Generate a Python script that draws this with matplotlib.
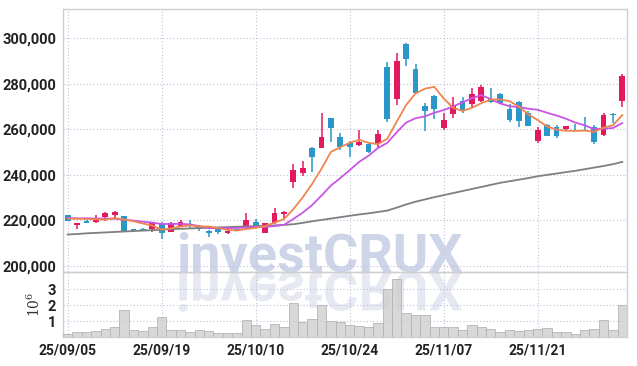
import matplotlib
matplotlib.use("Agg")
import matplotlib.pyplot as plt
import numpy as np
from matplotlib.textpath import TextPath
from matplotlib.patches import PathPatch
from matplotlib.font_manager import FontProperties
from matplotlib.transforms import Affine2D

# ---------------- data ----------------
dates = ["25/09/05", "25/09/08", "25/09/09", "25/09/10", "25/09/11", "25/09/12",
         "25/09/15", "25/09/16", "25/09/17", "25/09/18", "25/09/19",
         "25/09/22", "25/09/23", "25/09/24", "25/09/25", "25/09/26",
         "25/09/29", "25/09/30", "25/10/01", "25/10/02", "25/10/10",
         "25/10/13", "25/10/14", "25/10/15", "25/10/16", "25/10/17",
         "25/10/20", "25/10/21", "25/10/22", "25/10/23", "25/10/24",
         "25/10/27", "25/10/28", "25/10/29", "25/10/30", "25/10/31",
         "25/11/03", "25/11/04", "25/11/05", "25/11/06", "25/11/07",
         "25/11/10", "25/11/11", "25/11/12", "25/11/13", "25/11/14",
         "25/11/17", "25/11/18", "25/11/19", "25/11/20", "25/11/21",
         "25/11/24", "25/11/25", "25/11/26", "25/11/27", "25/11/28",
         "25/12/01", "25/12/02", "25/12/03", "25/12/04"]

opens = [222300, 218000, 219800, 219200, 221400, 222300, 221900, 216100, 216200, 216000,
         218400, 215000, 217600, 218600, 217000, 215400, 216000, 214300, 216100, 216600,
         219300, 214600, 218700, 222900, 237000, 240900, 251900, 251900, 264800, 256800,
         253800, 253100, 253500, 253800, 287500, 273300, 297500, 286500, 270200, 274600,
         260700, 266600, 272400, 271100, 272600, 273200, 275400, 268900, 271900, 267300,
         255000, 261900, 261100, 260100, 261200, 261200, 261100, 257500, 266800, 272600]
highs = [222500, 218800, 220100, 222300, 223600, 224000, 222000, 216300, 216500, 219400,
         219400, 219300, 220100, 220200, 217800, 215600, 216500, 215600, 216300, 223100,
         220800, 219000, 225300, 223900, 245000, 246000, 252300, 267000, 265100, 258500,
         255000, 259700, 254100, 259700, 289700, 293800, 298100, 288600, 271400, 275000,
         267000, 274100, 274100, 278400, 279300, 278000, 276000, 271100, 272300, 268000,
         261100, 262300, 261900, 261600, 262300, 265300, 262000, 267300, 267300, 284300]
lows = [219700, 216000, 218800, 218900, 219800, 220600, 215200, 215200, 215300, 215000,
        211900, 214800, 217300, 216000, 215400, 212900, 213800, 214200, 215700, 216300,
        216600, 214300, 218500, 220500, 234100, 239300, 241400, 251600, 254300, 251100,
        248000, 252800, 249500, 251600, 263100, 270700, 287800, 275500, 259300, 264500,
        259700, 264800, 267300, 269200, 272200, 271800, 271000, 263300, 261100, 261300,
        254100, 257000, 256300, 259900, 259700, 259300, 253700, 256900, 262900, 270000]
closes = [219800, 218700, 219000, 220800, 223100, 223600, 215300, 215300, 215500, 218900,
          214300, 218700, 219300, 217900, 216300, 214600, 215100, 215400, 215900, 220100,
          217100, 218800, 223100, 223600, 242100, 243100, 248000, 256700, 260800, 252400,
          252400, 254600, 250200, 257800, 264500, 290000, 290900, 275800, 268200, 268800,
          264100, 270700, 268500, 275400, 278700, 272200, 271400, 264100, 263800, 261600,
          259700, 257200, 257200, 261400, 260900, 260900, 254300, 266300, 266500, 283400]
volumes_m = [0.19, 0.31, 0.31, 0.37, 0.52, 0.62, 1.69, 0.46, 0.40, 0.62,
             1.25, 0.46, 0.46, 0.33, 0.46, 0.40, 0.27, 0.27, 0.27, 1.06,
             0.75, 0.52, 0.81, 0.65, 2.12, 0.96, 1.15, 2.02, 1.02, 0.92,
             0.75, 0.69, 0.65, 0.90, 3.00, 3.67, 1.50, 1.38, 1.38, 0.65,
             0.65, 0.65, 0.44, 0.75, 0.65, 0.50, 0.33, 0.46, 0.40, 0.46,
             0.52, 0.58, 0.33, 0.33, 0.19, 0.46, 0.52, 1.08, 0.46, 2.02]
ma5_k = [220.8, 220.7, 220.6, 220.5, 220.3, 221.0, 220.4, 219.6, 218.6, 217.7,
         215.9, 216.5, 217.3, 217.8, 217.3, 217.3, 216.6, 215.9, 215.5, 216.2,
         216.7, 217.5, 219.0, 220.5, 224.9, 230.1, 236.0, 242.7, 250.1, 252.2,
         254.1, 255.4, 254.1, 253.5, 255.9, 263.4, 270.7, 275.8, 277.9, 278.7,
         273.6, 269.5, 268.1, 269.5, 271.5, 273.1, 273.2, 272.4, 270.0, 266.6,
         264.1, 261.3, 259.9, 259.4, 259.3, 259.5, 258.9, 260.8, 261.8, 266.3]
ma10_k = [221.0, 220.9, 220.9, 220.8, 220.8, 220.7, 220.3, 219.9, 219.4, 219.0,
          218.4, 218.4, 218.5, 218.2, 217.5, 216.6, 216.6, 216.6, 216.7, 216.8,
          217.1, 217.1, 217.5, 218.0, 220.6, 223.4, 226.7, 230.9, 235.3, 238.6,
          242.1, 245.7, 248.4, 251.8, 254.1, 258.7, 263.0, 264.9, 265.7, 267.3,
          268.5, 270.1, 271.9, 273.7, 275.1, 273.3, 271.4, 270.2, 269.8, 269.1,
          268.6, 267.3, 266.1, 264.7, 263.0, 261.8, 260.1, 260.3, 260.6, 262.8]
ma60_k = [213.8, 214.0, 214.3, 214.5, 214.7, 214.9, 215.1, 215.3, 215.5, 215.7,
          215.9, 216.1, 216.3, 216.45, 216.6, 216.75, 216.9, 217.05, 217.2, 217.35,
          217.45, 217.6, 217.8, 218.0, 218.3, 218.9, 219.6, 220.2, 220.8, 221.4,
          222.0, 222.6, 223.1, 223.7, 224.3, 225.6, 227.0, 228.2, 229.2, 230.2,
          231.1, 232.0, 232.9, 233.8, 234.7, 235.6, 236.5, 237.2, 237.9, 238.6,
          239.4, 240.0, 240.6, 241.2, 241.8, 242.5, 243.2, 243.9, 244.7, 245.7]
price_ticks = [200000, 220000, 240000, 260000, 280000, 300000]
volume_ticks_m = [1, 2, 3]
date_tick_idx = [0, 10, 20, 30, 40, 50]
watermark = "investCRUX"

# ---------------- style ----------------
RED = "#e2195f"
BLUE = "#2b97c8"
ORANGE = "#f0854e"
PURPLE = "#c955e6"
GRAYLINE = "#7f7f7f"
GRID = "#bcc3d8"
SPINE = "#cfcfcf"
TICKFONT = ["Roboto", "DejaVu Sans"]
plt.rcParams["mathtext.fontset"] = "dejavuserif"

W, H = 637, 366
fig = plt.figure(figsize=(W / 100, H / 100), dpi=100, facecolor="white")
ax = fig.add_axes([63 / W, 1 - 272 / H, 564 / W, (272 - 9.3) / H])
axv = fig.add_axes([63 / W, 1 - 337 / H, 564 / W, 65 / H], sharex=ax)
for a in (ax, axv):
    a.set_facecolor("none")
    for s in a.spines.values():
        s.set_color(SPINE)
        s.set_linewidth(1.0)
    a.grid(True, linestyle=(0, (1, 2)), color=GRID, linewidth=0.8)
    a.set_axisbelow(True)
    a.tick_params(length=0, pad=5, labelsize=10.5, colors="#222222")
axv.tick_params(axis="x", labelsize=10)

x = np.arange(len(dates))
o = np.array(opens, float)
c = np.array(closes, float)
hi = np.array(highs, float)
lo = np.array(lows, float)
up = c >= o
cols = np.where(up, RED, BLUE)

ax.vlines(x, lo, hi, colors=cols, linewidth=1.1, zorder=3)
body_h = np.maximum(np.abs(c - o), 350)
ax.bar(x, body_h, width=0.62, bottom=np.minimum(o, c), color=cols, zorder=4,
       linewidth=0)

ax.plot(x, np.array(ma60_k) * 1000, color=GRAYLINE, lw=1.3, zorder=5)
ax.plot(x, np.array(ma10_k) * 1000, color=PURPLE, lw=1.3, zorder=5)
ax.plot(x, np.array(ma5_k) * 1000, color=ORANGE, lw=1.3, zorder=6)

ax.set_xlim(-0.5, len(dates) - 0.5)
ax.set_ylim(197300, 312800)
ax.set_yticks(price_ticks)
ax.set_yticklabels([f"{v:,}" for v in price_ticks])
ax.tick_params(axis="x", labelbottom=False)

vol = np.array(volumes_m) * 1e6
axv.bar(x, vol, width=1.0, color=(0.80, 0.80, 0.80, 0.75), edgecolor="#b5b5b5",
        linewidth=0.6, zorder=3)
axv.set_ylim(0, 4.1e6)
axv.set_yticks([v * 1e6 for v in volume_ticks_m])
axv.set_yticklabels([str(v) for v in volume_ticks_m])
axv.set_xticks(date_tick_idx)
axv.set_xticklabels([dates[i] for i in date_tick_idx])
axv.set_ylabel(r"$10^6$", fontsize=10, color="#333333", labelpad=3)

for lab in ax.get_yticklabels() + axv.get_yticklabels() + axv.get_xticklabels():
    lab.set_fontfamily(TICKFONT)
    lab.set_fontweight("bold")

# ---------------- watermark ----------------
wm_px = 54
wm_x, wm_base = 176, H - 272
fig.text(wm_x / W, wm_base / H, watermark, fontsize=wm_px * 72 / 100, fontweight="bold",
         family=["Roboto", "DejaVu Sans"], color="#cfd5e8",
         ha="left", va="baseline", zorder=-2)
fp = FontProperties(family="Roboto", weight="bold")
tp = TextPath((0, 0), watermark, size=wm_px, prop=fp)
refl = PathPatch(tp, transform=Affine2D().scale(1, -1).translate(wm_x, wm_base),
                 facecolor="#e7e9f2", edgecolor="none", zorder=-2)
fig.add_artist(refl)

fig.savefig("out.png", dpi=100)
